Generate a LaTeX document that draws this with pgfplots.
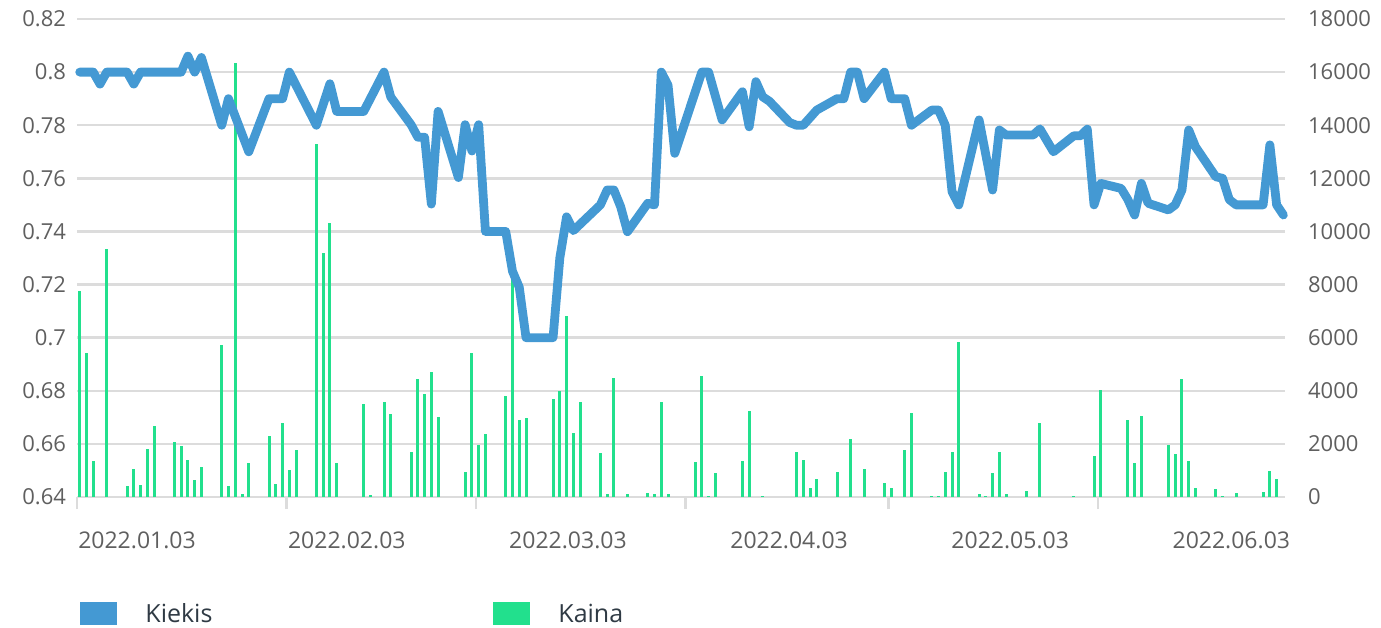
\documentclass[border=0pt]{standalone}
\usepackage{pgfplots}
\pgfplotsset{compat=1.18}
\usepackage{pgfplotstable}
\usepackage{fontspec}
\setmainfont{Open Sans}
\definecolor{kiekis}{HTML}{4499D3}
\definecolor{kaina}{HTML}{22E08D}
\definecolor{gridc}{HTML}{DCDCDC}
\definecolor{labelc}{HTML}{5F5F5F}
\definecolor{legc}{HTML}{2F3A44}

% bars: trading day index (0 = 2022.01.03), value on right axis
\pgfplotstableread{
d v
0 7770
1 5411
2 1344
4 9340
7 414
8 1067
9 464
10 1795
11 2686
14 2059
15 1933
16 1381
17 628
18 1118
21 5724
22 414
23 16344
24 125
25 1280
28 2297
29 477
30 2775
31 1030
32 1770
35 13294
36 9178
37 10319
38 1268
42 3491
43 75
45 3566
46 3137
49 1683
50 4444
51 3879
52 4719
53 3001
57 942
58 5435
59 1971
60 2385
63 3804
64 8550
65 2913
66 2988
70 3679
71 3992
72 6816
73 2423
74 3566
77 1670
78 125
79 4494
81 125
84 150
85 125
86 3591
87 100
91 1306
92 4569
93 30
94 917
98 1356
99 3239
101 50
106 1707
107 1381
108 351
109 665
112 942
114 2184
116 1054
119 515
120 339
122 1783
123 3150
126 50
127 50
128 942
129 1707
130 5837
133 125
134 40
135 904
136 1707
137 125
140 226
142 2799
147 40
150 1532
151 4030
155 2900
156 1280
157 3038
161 1971
162 1619
163 4431
164 1356
165 351
168 289
169 40
171 150
175 176
176 967
177 690
}\barsdata

% line: value on left axis
\pgfplotstableread{
d v
0 0.800
1 0.800
2 0.800
3 0.7955
4 0.800
7 0.800
8 0.7955
9 0.800
15 0.800
16 0.806
17 0.800
18 0.8055
21 0.780
22 0.790
25 0.770
28 0.790
30 0.790
31 0.800
35 0.780
37 0.7956
38 0.7852
42 0.7852
45 0.800
46 0.7906
49 0.7802
50 0.7755
51 0.7755
52 0.7503
53 0.7852
56 0.7603
57 0.7802
58 0.7703
59 0.7802
60 0.740
63 0.740
64 0.725
65 0.719
66 0.700
70 0.700
71 0.730
72 0.7455
73 0.7403
77 0.750
78 0.7556
79 0.7556
80 0.7493
81 0.7399
84 0.7506
85 0.750
86 0.800
87 0.7951
88 0.7694
92 0.800
93 0.800
95 0.782
98 0.7926
99 0.7794
100 0.7964
101 0.7907
102 0.789
105 0.781
106 0.780
107 0.780
109 0.7857
112 0.790
113 0.790
114 0.800
115 0.800
116 0.790
119 0.800
120 0.790
122 0.790
123 0.780
126 0.7857
127 0.7857
128 0.780
129 0.755
130 0.750
133 0.782
135 0.7556
136 0.7782
137 0.7763
141 0.7763
142 0.7786
144 0.770
147 0.776
148 0.776
149 0.7785
150 0.750
151 0.7581
154 0.7562
155 0.752
156 0.7462
157 0.7581
158 0.7506
161 0.7481
162 0.750
163 0.7556
164 0.7782
165 0.7719
168 0.7606
169 0.760
170 0.752
171 0.750
175 0.750
176 0.7726
177 0.750
178 0.7462
}\linedata

\begin{document}
\begin{tikzpicture}
\useasboundingbox (0,0) rectangle (690.5pt,313.5pt);
% right axis: bars, grid, x axis
\begin{axis}[
  at={(38.5pt,65pt)}, anchor=south west,
  scale only axis, width=604pt, height=239pt,
  xmin=-0.4, xmax=178.24, ymin=0, ymax=18000,
  axis y line*=right, axis x line*=bottom,
  y axis line style={draw=none},
  x axis line style={gridc, line width=1.2pt, -},
  ytick={0,2000,4000,6000,8000,10000,12000,14000,16000,18000},
  scaled y ticks=false,
  ytick style={draw=none},
  ymajorgrids, grid style={gridc, line width=1.2pt},
  xtick={-0.4,30.6,58.6,89.6,119.6,150.6}, xticklabels={},
  xtick style={gridc, line width=1.2pt},
  tick align=outside, major tick length=6pt,
  extra x ticks={8.47,39.5,72.2,104.9,137.6,170.3},
  extra x tick labels={2022.01.03,2022.02.03,2022.03.03,2022.04.03,2022.05.03,2022.06.03},
  extra x tick style={major tick length=0pt, xtick style={draw=none},
    tick label style={yshift=-14pt, font=\fontsize{11.5}{13}\selectfont, text=labelc}},
  ticklabel style={font=\fontsize{11}{13}\selectfont, text=labelc},
  yticklabel style={xshift=2pt},
  /pgf/number format/1000 sep={},
  /pgf/number format/assume math mode=true,
]
\addplot[ycomb, kaina, line width=1.5pt, mark=none] table[x=d,y=v]{\barsdata};
\end{axis}
% left axis: line
\begin{axis}[
  at={(38.5pt,65pt)}, anchor=south west,
  scale only axis, width=604pt, height=239pt,
  xmin=-0.4, xmax=178.24, ymin=0.64, ymax=0.82,
  hide x axis, axis y line*=left,
  y axis line style={draw=none},
  ytick={0.64,0.66,0.68,0.70,0.72,0.74,0.76,0.78,0.80,0.82},
  ytick style={draw=none},
  ticklabel style={font=\fontsize{11}{13}\selectfont, text=labelc},
  yticklabel style={xshift=-2pt},
  /pgf/number format/assume math mode=true,
  clip=false,
]
\addplot[kiekis, line width=4.4pt, line join=round, line cap=round, mark=none] table[x=d,y=v]{\linedata};
\end{axis}
% legend
\fill[kiekis] (40pt,1pt) rectangle (58.5pt,12.5pt);
\node[anchor=west, inner sep=0pt, text=legc, font=\fontsize{12.5}{14}\selectfont] at (72.5pt,6.75pt) {Kiekis};
\fill[kaina] (246.5pt,1pt) rectangle (265pt,12.5pt);
\node[anchor=west, inner sep=0pt, text=legc, font=\fontsize{12.5}{14}\selectfont] at (279pt,6.75pt) {Kaina};
\end{tikzpicture}
\end{document}
